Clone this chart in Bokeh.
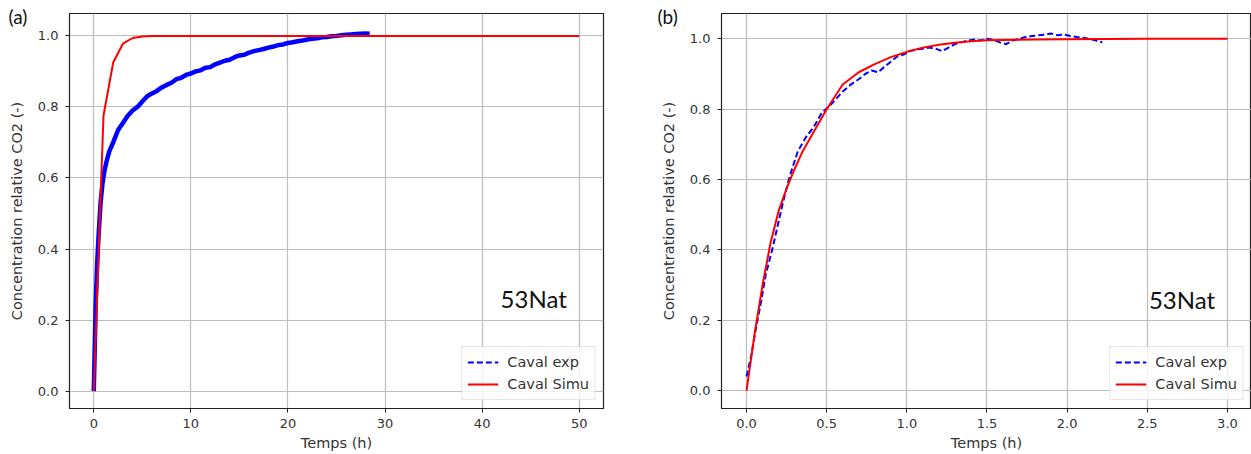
from bokeh.plotting import figure
from bokeh.layouts import row
from bokeh.models import FixedTicker, PrintfTickFormatter, Label, Legend, LegendItem, Range1d, Title
from bokeh.embed import file_html
from bokeh.resources import INLINE

# ---------------- data ----------------
# panel (a): experiment (h, relative CO2 concentration)
a_exp_t = [0.0, 0.1, 0.2, 0.35, 0.5, 0.7, 0.9, 1.1, 1.3, 1.6, 2.0, 2.5, 3.0, 3.5, 4.0, 4.5,
           5.0, 5.5, 6.0, 6.5, 7.0, 7.5, 8.0, 8.5, 9.0, 9.5, 10.0, 10.5, 11.0, 11.5, 12.0,
           12.5, 13.0, 13.5, 14.0, 14.5, 15.0, 15.5, 16.0, 16.5, 17.0, 17.5, 18.0, 18.5,
           19.0, 19.5, 20.0, 20.5, 21.0, 21.5, 22.0, 22.5, 23.0, 23.5, 24.0, 24.5, 25.0,
           25.5, 26.0, 26.5, 27.0, 27.5, 28.0, 28.4]
a_exp_v = [0.0, 0.12, 0.25, 0.36, 0.44, 0.53, 0.585, 0.62, 0.645, 0.675, 0.70, 0.735, 0.755,
           0.775, 0.79, 0.80, 0.815, 0.83, 0.838, 0.845, 0.855, 0.862, 0.868, 0.878, 0.882,
           0.89, 0.894, 0.90, 0.903, 0.91, 0.912, 0.92, 0.925, 0.93, 0.933, 0.94, 0.945,
           0.947, 0.953, 0.957, 0.96, 0.963, 0.967, 0.97, 0.974, 0.976, 0.98, 0.982, 0.985,
           0.987, 0.99, 0.992, 0.993, 0.996, 0.997, 0.999, 1.0, 1.002, 1.003, 1.004, 1.005,
           1.006, 1.007, 1.006]
# panel (a): simulation
a_sim_t = [0, 1, 2, 3, 4, 5, 6, 50]
a_sim_v = [0.0, 0.775, 0.925, 0.978, 0.994, 0.998, 1.0, 1.0]

# panel (b): experiment
b_exp_t = [0.00, 0.03, 0.06, 0.09, 0.12, 0.16, 0.20, 0.23, 0.27, 0.32, 0.37, 0.42, 0.47,
           0.52, 0.56, 0.60, 0.65, 0.70, 0.74, 0.78, 0.82, 0.86, 0.90, 0.94, 0.98, 1.02,
           1.06, 1.10, 1.14, 1.18, 1.22, 1.26, 1.30, 1.34, 1.38, 1.42, 1.46, 1.50, 1.54,
           1.58, 1.62, 1.66, 1.70, 1.74, 1.78, 1.82, 1.86, 1.90, 1.94, 1.98, 2.02, 2.06,
           2.10, 2.14, 2.18, 2.22]
b_exp_v = [0.04, 0.10, 0.18, 0.25, 0.33, 0.40, 0.48, 0.54, 0.61, 0.68, 0.72, 0.75, 0.79,
           0.81, 0.83, 0.85, 0.87, 0.885, 0.90, 0.91, 0.905, 0.92, 0.935, 0.95, 0.955, 0.965,
           0.97, 0.972, 0.975, 0.972, 0.965, 0.975, 0.985, 0.99, 0.995, 0.998, 0.995, 1.0,
           0.997, 0.99, 0.985, 0.995, 1.0, 1.005, 1.008, 1.01, 1.012, 1.015, 1.01, 1.012,
           1.008, 1.005, 1.003, 1.0, 0.995, 0.99]
# panel (b): simulation
b_sim_t = [0.0, 0.05, 0.1, 0.15, 0.2, 0.25, 0.3, 0.35, 0.4, 0.5, 0.6, 0.7, 0.8, 0.9, 1.0,
           1.1, 1.2, 1.3, 1.4, 1.5, 1.6, 1.8, 2.0, 2.5, 3.0]
b_sim_v = [0.0, 0.16, 0.30, 0.42, 0.51, 0.575, 0.63, 0.68, 0.72, 0.80, 0.87, 0.905, 0.928,
           0.948, 0.963, 0.975, 0.983, 0.989, 0.993, 0.996, 0.997, 0.998, 0.999, 1.0, 1.0]

y_ticks = [0.0, 0.2, 0.4, 0.6, 0.8, 1.0]
a_x_ticks = [0, 10, 20, 30, 40, 50]
b_x_ticks = [0.0, 0.5, 1.0, 1.5, 2.0, 2.5, 3.0]

series_names = ["Caval exp", "Caval Simu"]
x_label = "Temps (h)"
y_label = "Concentration relative CO2 (-)"
tag_text = "53Nat"

TICK_FONT = "DejaVu Sans"
TEXT_COL = "#333333"


def make_fig(width, border_left, border_right, xr, yr, xticks, xfmt,
             exp_t, exp_v, sim_t, sim_v, band, panel_tag, tag_offset, nat_pos):
    title = Title(text=panel_tag, align="left", offset=tag_offset, standoff=-28,
                  text_font="Lato", text_font_size="19px", text_font_style="normal",
                  text_color="#111111")
    p = figure(width=width, height=454, x_range=Range1d(*xr), y_range=Range1d(*yr),
               output_backend="svg", toolbar_location=None, title=title,
               min_border_left=border_left, min_border_right=border_right,
               min_border_top=13, min_border_bottom=46)
    p.background_fill_color = "white"
    p.border_fill_color = "white"
    p.outline_line_color = "#222222"
    p.outline_line_width = 1.2

    p.xaxis.ticker = FixedTicker(ticks=xticks)
    p.yaxis.ticker = FixedTicker(ticks=y_ticks)
    p.xaxis.formatter = PrintfTickFormatter(format=xfmt)
    p.yaxis.formatter = PrintfTickFormatter(format="%.1f")
    for ax in (p.xaxis[0], p.yaxis[0]):
        ax.major_label_text_font = TICK_FONT
        ax.major_label_text_font_size = "13px"
        ax.major_label_text_color = TEXT_COL
        ax.axis_label_text_font = TICK_FONT
        ax.axis_label_text_font_size = "14.5px"
        ax.axis_label_text_font_style = "normal"
        ax.axis_label_text_color = TEXT_COL
        ax.axis_line_color = "#222222"
        ax.major_tick_line_color = "#222222"
        ax.major_tick_out = 4
        ax.major_tick_in = 0
        ax.minor_tick_line_color = None
    p.xaxis.axis_label = x_label
    p.yaxis.axis_label = y_label
    p.xaxis.major_label_standoff = 6
    p.xaxis.axis_label_standoff = 4
    p.yaxis.major_label_standoff = 7
    p.yaxis.axis_label_standoff = 10

    p.xgrid.grid_line_color = "#bdbdbd"
    p.ygrid.grid_line_color = "#bdbdbd"
    p.xgrid.grid_line_width = 1.2
    p.ygrid.grid_line_width = 1.2

    r_exp = p.line(exp_t, exp_v, line_color="#0000ff", line_width=2, line_dash="6 3")
    if band:
        p.line(exp_t, exp_v, line_color="#0000ff", line_width=4.5)
    r_sim = p.line(sim_t, sim_v, line_color="#ff0000", line_width=2)

    leg = Legend(items=[LegendItem(label=series_names[0], renderers=[r_exp]),
                        LegendItem(label=series_names[1], renderers=[r_sim])],
                 location="bottom_right")
    leg.label_text_font = TICK_FONT
    leg.label_text_font_size = "14.5px"
    leg.label_text_color = TEXT_COL
    leg.border_line_color = "#cccccc"
    leg.border_line_width = 1
    leg.background_fill_alpha = 0.8
    leg.glyph_width = 31
    leg.glyph_height = 20
    leg.label_standoff = 9
    leg.padding = 5
    leg.spacing = 2
    leg.margin = 8
    p.add_layout(leg)

    p.add_layout(Label(x=nat_pos[0], y=nat_pos[1], text=tag_text, text_font="Lato",
                       text_font_size="24px", text_color="#111111", text_baseline="middle"))
    return p


pa = make_fig(640, 69, 37, (-2.5, 52.5), (-0.049, 1.063), a_x_ticks, "%d",
              a_exp_t, a_exp_v, a_sim_t, a_sim_v, True, "(a)", -61, (41.9, 0.26))
pb = make_fig(611, 81, 0, (-0.156, 3.15), (-0.051, 1.072), b_x_ticks, "%.1f",
              b_exp_t, b_exp_v, b_sim_t, b_sim_v, False, "(b)", -64, (2.51, 0.26))

layout = row(pa, pb, spacing=0)
open("out.html", "w").write(file_html(layout, INLINE))
